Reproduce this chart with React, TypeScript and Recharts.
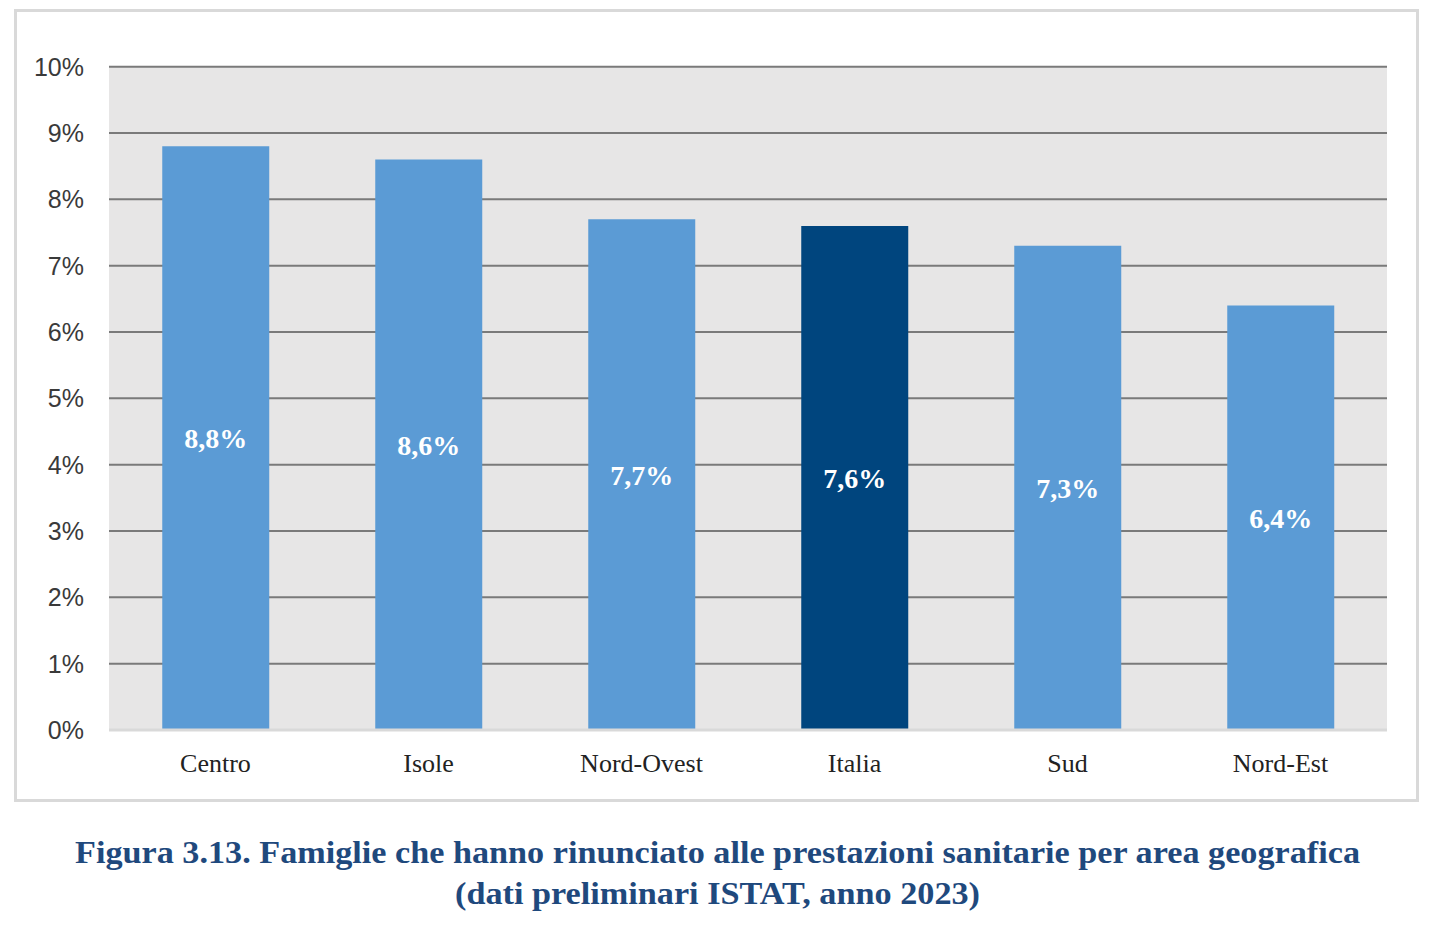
import React from "react";
import {
  BarChart,
  Bar,
  XAxis,
  YAxis,
  CartesianGrid,
  Cell,
  LabelList,
} from "recharts";

// areas and share of families that gave up health services (%)
const areas = ["Centro", "Isole", "Nord-Ovest", "Italia", "Sud", "Nord-Est"];
const values = [8.8, 8.6, 7.7, 7.6, 7.3, 6.4];
const yTicks = [0, 1, 2, 3, 4, 5, 6, 7, 8, 9, 10];
const titleLines = [
  "Figura 3.13. Famiglie che hanno rinunciato alle prestazioni sanitarie per area geografica",
  "(dati preliminari ISTAT, anno 2023)",
];

const data = areas.map((area, i) => ({ area, value: values[i] }));

const SERIF = "'Liberation Serif', 'DejaVu Serif', serif";
const SANS = "'Liberation Sans', Arial, sans-serif";

const fmt = (v: number) => `${v.toFixed(1).replace(".", ",")}%`;

export default function App() {
  return (
    <div
      style={{
        position: "absolute",
        left: 0,
        top: 0,
        width: 1434,
        height: 938,
        background: "#fff",
      }}
    >
      {/* frame around the chart */}
      <div
        style={{
          position: "absolute",
          left: 14,
          top: 9,
          width: 1399,
          height: 787,
          border: "3px solid #d9d9d9",
        }}
      />

      <div style={{ position: "absolute", left: 0, top: 0 }}>
        <BarChart
          width={1434}
          height={938}
          data={data}
          margin={{ top: 66.7, right: 47, left: 0, bottom: 148 }}
          barCategoryGap="25%"
        >
          <CartesianGrid
            vertical={false}
            stroke="#7a7a7a"
            strokeWidth={2}
            fill="#e7e6e6"
            fillOpacity={1}
          />
          <YAxis
            width={109}
            domain={[0, 10]}
            ticks={yTicks}
            interval={0}
            tickFormatter={(v) => `${v}%`}
            tickLine={false}
            axisLine={false}
            tickMargin={19}
            tick={{ fontFamily: SANS, fontSize: 25, fill: "#3a3a3a" }}
          />
          <XAxis
            dataKey="area"
            height={60}
            tickLine={false}
            axisLine={{ stroke: "#d9d9d9", strokeWidth: 3 }}
            tickMargin={18}
            tick={{ fontFamily: SERIF, fontSize: 26, fill: "#222" }}
          />
          <Bar dataKey="value" isAnimationActive={false}>
            {data.map((d) => (
              <Cell
                key={d.area}
                fill={d.area === "Italia" ? "#00457e" : "#5b9bd5"}
              />
            ))}
            <LabelList
              dataKey="value"
              position="center"
              formatter={(v: any) => fmt(Number(v))}
              style={{
                fontFamily: SERIF,
                fontSize: 28,
                fontWeight: 700,
                fill: "#ffffff",
              }}
            />
          </Bar>
        </BarChart>
      </div>

      {/* caption */}
      <svg
        width={1434}
        height={100}
        style={{ position: "absolute", left: 0, top: 830 }}
      >
        <text
          x={717.5}
          y={32.7}
          textAnchor="middle"
          textLength={1285}
          lengthAdjust="spacingAndGlyphs"
          style={{
            fontFamily: SERIF,
            fontSize: 32,
            fontWeight: 700,
            fill: "#1f497d",
          }}
        >
          {titleLines[0]}
        </text>
        <text
          x={717.5}
          y={73.5}
          textAnchor="middle"
          textLength={525}
          lengthAdjust="spacingAndGlyphs"
          style={{
            fontFamily: SERIF,
            fontSize: 32,
            fontWeight: 700,
            fill: "#1f497d",
          }}
        >
          {titleLines[1]}
        </text>
      </svg>
    </div>
  );
}
